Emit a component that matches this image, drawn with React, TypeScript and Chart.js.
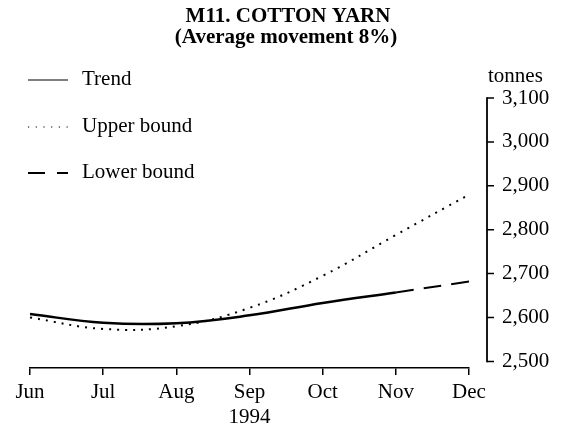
import { useEffect, useRef } from 'react';
import { Chart, registerables } from 'chart.js';

Chart.register(...registerables);

const months = ['Jun', 'Jul', 'Aug', 'Sep', 'Oct', 'Nov', 'Dec'];
const yearLabel = '1994';
const yearIndex = 3;
const trend = [2608, 2588, 2587, 2605, 2633, 2657, null];
const upperBound = [2600, 2574, 2580, 2622, 2695, 2788, 2880];
const lowerBound = [null, null, null, null, null, 2657, 2682];
const yTicks = [2500, 2600, 2700, 2800, 2900, 3000, 3100];
const titleLines = ['M11. COTTON YARN', '(Average movement 8%)'];
const unitLabel = 'tonnes';
const seriesLabels = ['Trend', 'Upper bound', 'Lower bound'];

const SERIF = '"Liberation Serif", "Times New Roman", serif';

const legendStyles = [
  { dash: [], width: 1.2 },
  { dash: [1.2, 6.5], width: 1.2 },
  { dash: [17, 12], width: 2 },
];

const decor = {
  id: 'decor',
  afterDraw(chart: any) {
    const { ctx, chartArea, scales } = chart;
    const y = scales.y;
    ctx.save();
    ctx.fillStyle = '#000';
    ctx.strokeStyle = '#000';

    // title
    ctx.textAlign = 'center';
    ctx.textBaseline = 'middle';
    ctx.font = `bold 21px ${SERIF}`;
    ctx.fillText(titleLines[0], 288, 17);
    ctx.fillText(titleLines[1], 286, 38);

    // legend
    const legendY = [80, 127, 173];
    ctx.font = `21px ${SERIF}`;
    ctx.textAlign = 'left';
    seriesLabels.forEach((lab, i) => {
      const st = legendStyles[i];
      ctx.save();
      ctx.beginPath();
      ctx.rect(27, legendY[i] - 4, 42, 8);
      ctx.clip();
      ctx.lineWidth = st.width;
      ctx.setLineDash(st.dash);
      ctx.beginPath();
      ctx.moveTo(28, legendY[i]);
      ctx.lineTo(68, legendY[i]);
      ctx.stroke();
      ctx.restore();
      ctx.fillText(lab, 82, legendY[i] - 1);
    });

    // right value axis, offset from plot area
    const ax = chartArea.right + 18;
    const top = y.getPixelForValue(yTicks[yTicks.length - 1]);
    const bot = y.getPixelForValue(yTicks[0]);
    ctx.setLineDash([]);
    ctx.lineWidth = 1.8;
    ctx.beginPath();
    ctx.moveTo(ax, top - 0.8);
    ctx.lineTo(ax, bot + 0.8);
    ctx.stroke();
    ctx.lineWidth = 1.5;
    ctx.beginPath();
    yTicks.forEach((v) => {
      const p = y.getPixelForValue(v);
      ctx.moveTo(ax, p);
      ctx.lineTo(ax + 7, p);
    });
    ctx.stroke();

    // unit label
    ctx.font = `21px ${SERIF}`;
    ctx.textAlign = 'left';
    ctx.textBaseline = 'alphabetic';
    ctx.fillText(unitLabel, ax + 1, 82);
    ctx.restore();
  },
};

export default function App() {
  const ref = useRef<HTMLCanvasElement>(null);

  useEffect(() => {
    if (!ref.current) return;
    const font = { family: SERIF, size: 21, lineHeight: 1.2 };
    const chart = new Chart(ref.current, {
      type: 'line',
      data: {
        labels: months,
        datasets: [
          {
            label: seriesLabels[0],
            data: trend,
            borderColor: '#000',
            borderWidth: 2.5,
            pointRadius: 0,
            tension: 0.4,
            fill: false,
          },
          {
            label: seriesLabels[1],
            data: upperBound,
            borderColor: '#000',
            borderWidth: 2,
            borderDash: [2, 6],
            pointRadius: 0,
            tension: 0.4,
            fill: false,
          },
          {
            label: seriesLabels[2],
            data: lowerBound,
            borderColor: '#000',
            borderWidth: 2,
            borderDash: [18, 10],
            pointRadius: 0,
            tension: 0.4,
            fill: false,
          },
        ],
      },
      options: {
        animation: false,
        responsive: false,
        events: [],
        layout: { padding: { top: 98, left: 30, right: 0, bottom: 0 } },
        plugins: {
          legend: { display: false },
          title: { display: false },
          tooltip: { enabled: false },
        },
        scales: {
          x: {
            offset: false,
            grid: {
              display: true,
              drawOnChartArea: false,
              drawTicks: true,
              tickLength: 7,
              color: '#000',
              lineWidth: 1.5,
            },
            border: { display: true, color: '#000', width: 1.5 },
            ticks: {
              color: '#000',
              font,
              padding: 5,
              maxRotation: 0,
              autoSkip: false,
              callback: (_v: any, i: number) =>
                i === yearIndex ? [months[i], yearLabel] : months[i],
            },
            afterFit: (s: any) => {
              s.height = 62;
            },
          },
          y: {
            position: 'right',
            min: 2485,
            max: 3100,
            afterBuildTicks: (s: any) => {
              s.ticks = yTicks.map((v) => ({ value: v }));
            },
            grid: { display: false, drawTicks: false },
            border: { display: false },
            ticks: {
              color: '#000',
              font,
              padding: 33,
              callback: (v: any) => Number(v).toLocaleString('en-US'),
            },
            afterFit: (s: any) => {
              s.width = 102;
            },
          },
        },
      },
      plugins: [decor],
    });
    return () => chart.destroy();
  }, []);

  return (
    <div style={{ position: 'absolute', left: 0, top: 0, width: 571, height: 430, background: '#fff' }}>
      <canvas ref={ref} width={571} height={430} style={{ display: 'block' }} />
    </div>
  );
}
